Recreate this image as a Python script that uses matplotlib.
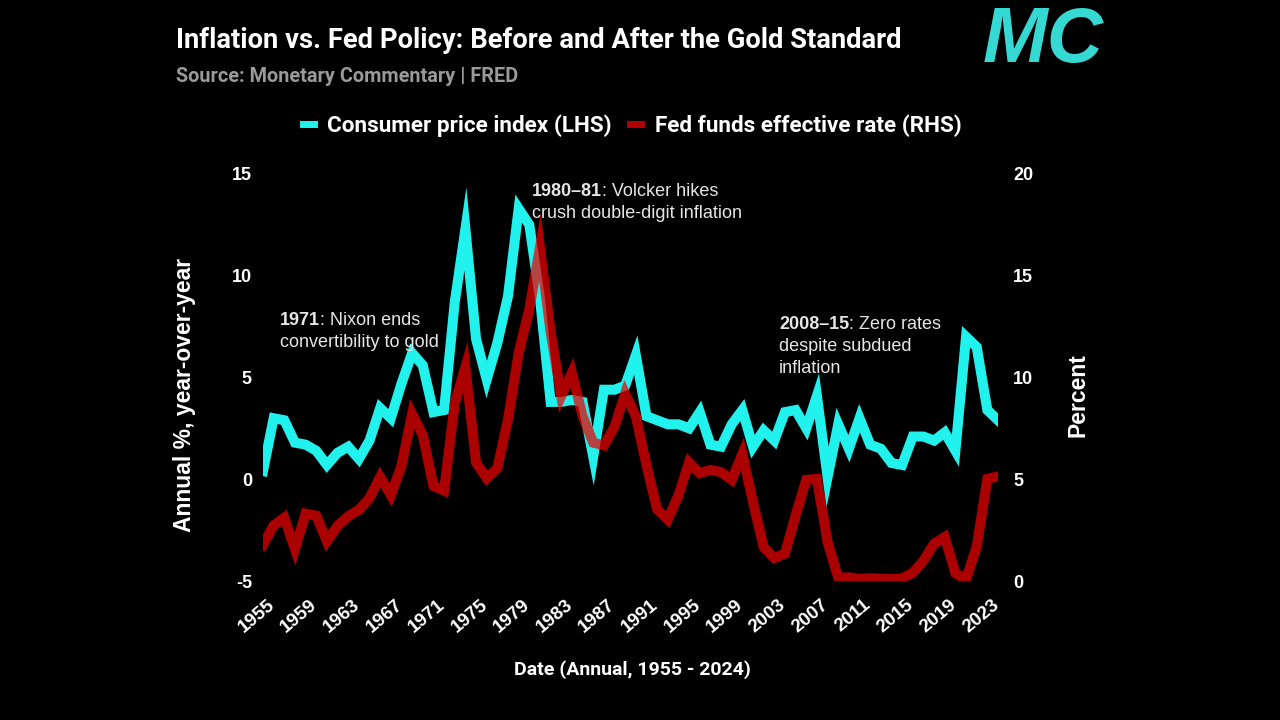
import matplotlib
matplotlib.use("Agg")
import matplotlib.pyplot as plt
import matplotlib.transforms as mtransforms
from matplotlib.lines import Line2D

# datos (CPI dic/dic, tasa fed promedio anual)
years = list(range(1955, 2025))
cpi = [0.4, 3.0, 2.9, 1.8, 1.7, 1.4, 0.7, 1.3, 1.6, 1.0,
       1.9, 3.5, 3.0, 4.7, 6.2, 5.6, 3.3, 3.4, 8.7, 12.3,
       6.9, 4.9, 6.7, 9.0, 13.3, 12.5, 8.9, 3.8, 3.8, 3.9,
       3.8, 1.1, 4.4, 4.4, 4.6, 6.1, 3.1, 2.9, 2.7, 2.7,
       2.5, 3.3, 1.7, 1.6, 2.7, 3.4, 1.6, 2.4, 1.9, 3.3,
       3.4, 2.5, 4.1, 0.1, 2.7, 1.5, 3.0, 1.7, 1.5, 0.8,
       0.7, 2.1, 2.1, 1.9, 2.3, 1.4, 7.0, 6.5, 3.4, 2.9]
fedfunds = [1.78, 2.73, 3.11, 1.57, 3.31, 3.21, 1.95, 2.71, 3.18, 3.50,
            4.07, 5.11, 4.22, 5.66, 8.21, 7.17, 4.67, 4.44, 8.74, 10.51,
            5.82, 5.05, 5.54, 7.94, 11.20, 13.35, 16.39, 12.24, 9.09, 10.23,
            8.10, 6.80, 6.66, 7.57, 9.21, 8.10, 5.69, 3.52, 3.02, 4.21,
            5.83, 5.30, 5.46, 5.35, 4.97, 6.24, 3.88, 1.67, 1.13, 1.35,
            3.22, 4.97, 5.02, 1.92, 0.16, 0.18, 0.10, 0.14, 0.11, 0.09,
            0.13, 0.40, 1.00, 1.83, 2.16, 0.38, 0.08, 1.68, 5.02, 5.14]
xticks = list(range(1955, 2024, 4))
lhs_ticks = [-5, 0, 5, 10, 15]
rhs_ticks = [0, 5, 10, 15, 20]

narrow = ['Roboto', 'Liberation Sans', 'DejaVu Sans']
arial = ['Liberation Sans', 'DejaVu Sans']
cyan = '#22f2ee'
red = '#ee0000'

plt.rcParams['font.family'] = arial
plt.rcParams['axes.unicode_minus'] = False
fig = plt.figure(figsize=(12.8, 7.2), dpi=100, facecolor='black')
ax = fig.add_axes([263/1280, 1-581/720, (998-263)/1280, (581-174)/720])
ax.set_facecolor('black')
ax2 = ax.twinx()

ax.plot(years, cpi, color=cyan, lw=7.2, solid_joinstyle='miter', zorder=2)
ax2.plot(years, fedfunds, color=red, lw=7.2, alpha=0.72, solid_joinstyle='miter')

ax.set_xlim(1955, 2024)
ax.set_ylim(-5, 15)
ax2.set_ylim(0, 20)
ax.set_yticks(lhs_ticks)
ax2.set_yticks(rhs_ticks)
ax.set_xticks(xticks)

for a in (ax, ax2):
    for s in a.spines.values():
        s.set_visible(False)
    a.tick_params(length=0, colors='white', labelsize=13)
ax.tick_params(axis='y', pad=8)
ax2.tick_params(axis='y', pad=11)
ax.tick_params(axis='x', pad=11)
for lab in ax.get_yticklabels() + ax2.get_yticklabels():
    lab.set_fontweight('bold')

ax.set_xticklabels([str(y) for y in xticks], rotation=40, ha='right', va='top',
                   rotation_mode='anchor', fontsize=13.5, fontweight='bold', color='white')
off = mtransforms.ScaledTranslation(4/100, 0, fig.dpi_scale_trans)
for lab in ax.get_xticklabels():
    lab.set_transform(lab.get_transform() + off)

# textos
fig.text(176/1280, 1-40/720, 'Inflation vs. Fed Policy: Before and After the Gold Standard',
         color='white', fontsize=19.7, fontweight='bold', family=narrow, va='center')
fig.text(176/1280, 1-77/720, 'Source: Monetary Commentary | FRED',
         color='#9a9a9a', fontsize=14.3, fontweight='bold', family=narrow, va='center')
fig.text(1043/1280, 1-62/720, 'MC', color='#35d8d2', fontsize=56, fontweight='bold',
         style='italic', family=arial, ha='center', va='baseline')

handles = [Line2D([], [], color=cyan, lw=5), Line2D([], [], color='#b00000', lw=5)]
fig.legend(handles, ['Consumer price index (LHS)', 'Fed funds effective rate (RHS)'],
           loc='center', bbox_to_anchor=(632/1280, 1-126/720), ncol=2, frameon=False,
           handlelength=0.5, handletextpad=0.6, columnspacing=0.8,
           prop={'family': narrow, 'weight': 'bold', 'size': 16.2}, labelcolor='white')

fig.text(184/1280, 1-395/720, 'Annual %, year-over-year', rotation=90, color='white',
         fontsize=16.5, fontweight='bold', ha='center', va='center')
fig.text(1078/1280, 1-395/720, 'Percent', rotation=90, color='white',
         fontsize=16.5, fontweight='bold', ha='center', va='center')
fig.text(632/1280, 1-670/720, 'Date (Annual, 1955 - 2024)', color='white',
         fontsize=14, fontweight='bold', family=narrow, ha='center', va='center')

def note(x, ys, bold, lines):
    t = ax.text(x, ys[0], bold, color='#e6e6e6', fontsize=13, fontweight='bold', va='baseline')
    ax.annotate(lines[0], xy=(1, 0), xycoords=t, va='bottom', color='#e6e6e6', fontsize=13)
    for yy, txt in zip(ys[1:], lines[1:]):
        ax.text(x, yy, txt, color='#e6e6e6', fontsize=13, va='baseline')

note(1956.6, [7.57, 6.49], '1971', [': Nixon ends', 'convertibility to gold'])
note(1980.26, [13.9, 12.83], '1980\u201381', [': Volcker hikes', 'crush double-digit inflation'])
note(2003.45, [7.37, 6.29, 5.21], '2008\u201315', [': Zero rates', 'despite subdued', 'inflation'])

fig.savefig('out.png', dpi=100, facecolor='black')
